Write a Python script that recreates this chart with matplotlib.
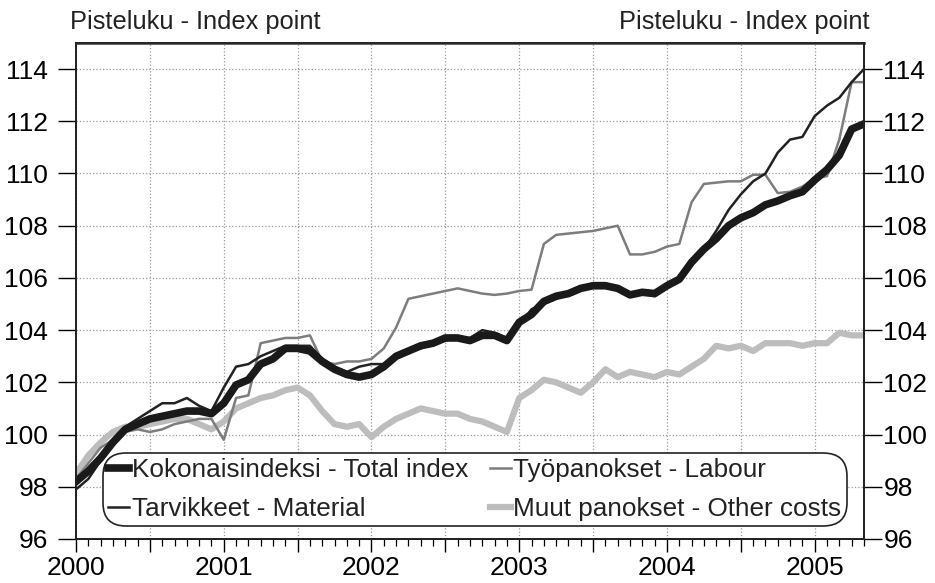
#%% Import libraries

import numpy as np
import matplotlib
matplotlib.use("Agg")
import matplotlib.pyplot as plt
from matplotlib.ticker import FixedLocator, FuncFormatter, MultipleLocator

plt.rcParams['font.family'] = ['Liberation Sans', 'DejaVu Sans']

#%% Data (monthly, Jan 2000 - May 2005)

start_year = 2000
n_months = 65

total_index = [98.2, 98.6, 99.1, 99.7, 100.2, 100.4, 100.6, 100.7, 100.8, 100.9, 100.9, 100.8,
               101.2, 101.9, 102.1, 102.7, 102.9, 103.3, 103.3, 103.2, 102.8, 102.5, 102.3, 102.2,
               102.3, 102.6, 103.0, 103.2, 103.4, 103.5, 103.7, 103.7, 103.6, 103.8, 103.8, 103.6,
               104.3, 104.6, 105.1, 105.3, 105.4, 105.6, 105.7, 105.7, 105.6, 105.35, 105.45, 105.4,
               105.7, 105.95, 106.6, 107.1, 107.5, 108.0, 108.3, 108.5, 108.8, 108.95, 109.15, 109.3,
               109.75, 110.15, 110.7, 111.7, 111.9]

material = [97.9, 98.3, 99.0, 99.8, 100.3, 100.6, 100.9, 101.2, 101.2, 101.4, 101.1, 100.9,
            101.8, 102.6, 102.7, 103.0, 103.2, 103.4, 103.4, 103.4, 102.9, 102.6, 102.4, 102.6,
            102.7, 102.7, 102.9, 103.2, 103.3, 103.5, 103.6, 103.7, 103.7, 104.0, 103.9, 103.7,
            104.2, 104.8, 105.0, 105.2, 105.4, 105.6, 105.8, 105.8, 105.6, 105.3, 105.5, 105.3,
            105.8, 106.0, 106.6, 107.1, 107.8, 108.6, 109.2, 109.7, 110.0, 110.8, 111.3, 111.4,
            112.2, 112.6, 112.9, 113.5, 114.0]

labour = [98.3, 98.9, 99.5, 99.8, 100.1, 100.2, 100.1, 100.2, 100.4, 100.5, 100.6, 100.6,
          99.8, 101.4, 101.5, 103.5, 103.6, 103.7, 103.7, 103.8, 102.8, 102.7, 102.8, 102.8,
          102.9, 103.3, 104.1, 105.2, 105.3, 105.4, 105.5, 105.6, 105.5, 105.4, 105.35, 105.4,
          105.5, 105.55, 107.3, 107.65, 107.7, 107.75, 107.8, 107.9, 108.0, 106.9, 106.9, 107.0,
          107.2, 107.3, 108.9, 109.6, 109.65, 109.7, 109.7, 109.95, 109.95, 109.25, 109.3, 109.5,
          109.8, 109.9, 111.3, 113.5, 113.5]

other_costs = [98.5, 99.2, 99.7, 100.1, 100.3, 100.3, 100.4, 100.5, 100.6, 100.6, 100.4, 100.2,
               100.5, 101.0, 101.2, 101.4, 101.5, 101.7, 101.8, 101.5, 100.9, 100.4, 100.3, 100.4,
               99.9, 100.3, 100.6, 100.8, 101.0, 100.9, 100.8, 100.8, 100.6, 100.5, 100.3, 100.1,
               101.4, 101.7, 102.1, 102.0, 101.8, 101.6, 102.0, 102.5, 102.2, 102.4, 102.3, 102.2,
               102.4, 102.3, 102.6, 102.9, 103.4, 103.3, 103.4, 103.2, 103.5, 103.5, 103.5, 103.4,
               103.5, 103.5, 103.9, 103.8, 103.8]

labels = ["Kokonaisindeksi - Total index", "Tarvikkeet - Material",
          "Työpanokset - Labour", "Muut panokset - Other costs"]
axis_title = "Pisteluku - Index point"
year_labels = [2000, 2001, 2002, 2003, 2004, 2005]

t = start_year + np.arange(n_months) / 12.0

#%% Plot

fig = plt.figure(figsize=(9.35, 5.83), dpi=100)
ax = fig.add_axes([0.0813, 0.0755, 0.8427, 0.8508])

l_other, = ax.plot(t, other_costs, color="#bdbdbd", lw=4.5, zorder=2)
l_lab, = ax.plot(t, labour, color="#7d7d7d", lw=1.8, zorder=3)
l_mat, = ax.plot(t, material, color="#222222", lw=1.8, zorder=4)
l_tot, = ax.plot(t, total_index, color="#1a1a1a", lw=5.5, zorder=5)

# Axis limits and ticks
ax.set_xlim(start_year, t[-1])
ax.set_ylim(96, 115)
ax.yaxis.set_major_locator(FixedLocator(np.arange(96, 115, 2)))
ax.xaxis.set_major_locator(MultipleLocator(0.5))
ax.xaxis.set_minor_locator(MultipleLocator(1 / 12))
ax.xaxis.set_major_formatter(FuncFormatter(
    lambda v, p: str(int(round(v))) if abs(v - round(v)) < 1e-6 and int(round(v)) in year_labels else ""))

ax.tick_params(axis="x", which="major", length=9, width=1.0, pad=3, labelsize=19)
ax.tick_params(axis="x", which="minor", length=5, width=0.9)
ax.tick_params(axis="y", which="major", length=13, width=1.0, pad=7, labelsize=19)

# Right hand side axis
ax2 = ax.twinx()
ax2.set_ylim(ax.get_ylim())
ax2.yaxis.set_major_locator(FixedLocator(np.arange(96, 115, 2)))
ax2.tick_params(axis="y", which="major", length=13, width=1.0, pad=1, labelsize=19)

for a in (ax, ax2):
    for s in a.spines.values():
        s.set_linewidth(1.3)
        s.set_color("#222222")
ax.spines["top"].set_color("#555555")
ax.spines["top"].set_linewidth(2)

# Add the gridlines
ax.grid(True, which="major", color="#9a9a9a", linestyle=":", linewidth=0.9)
ax.set_axisbelow(True)

# Titles above axes
fig.text(70 / 935, 1 - 22 / 583, axis_title, ha="left", va="center", fontsize=18.3, color="#222222")
fig.text(870 / 935, 1 - 22 / 583, axis_title, ha="right", va="center", fontsize=18.3, color="#222222")

# Legend
leg = ax2.legend([l_tot, l_mat, l_lab, l_other], labels, ncol=2, loc="lower left",
                 bbox_to_anchor=(0.034, 0.026, 0.944, 0.15), mode="expand",
                 fontsize=18.8, handlelength=0.8, handletextpad=0.1, labelspacing=0.57,
                 borderpad=0.2, borderaxespad=0, columnspacing=0.2,
                 frameon=True, fancybox=True, framealpha=1, edgecolor="#222222")
leg.get_frame().set_boxstyle("round,pad=0,rounding_size=0.9")
leg.get_frame().set_linewidth(1.2)
for txt in leg.get_texts():
    txt.set_color("#222222")

fig.savefig("out.png", dpi=100)
plt.close()
